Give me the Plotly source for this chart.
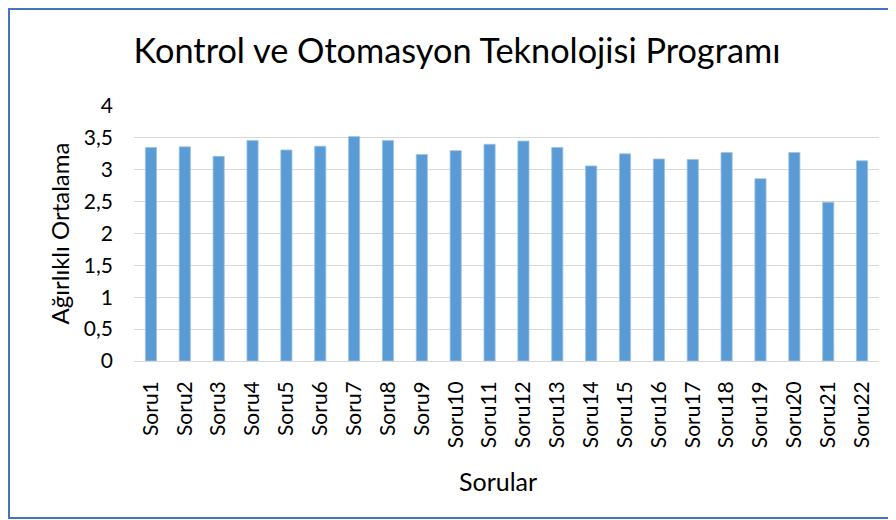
import plotly.graph_objects as go

categories = [f"Soru{i}" for i in range(1, 23)]
values = [3.35, 3.36, 3.21, 3.46, 3.31, 3.37, 3.52, 3.46, 3.24, 3.30, 3.40,
          3.45, 3.35, 3.06, 3.25, 3.17, 3.16, 3.27, 2.86, 3.27, 2.49, 3.14]
y_ticks = [0, 0.5, 1, 1.5, 2, 2.5, 3, 3.5, 4]
y_tick_labels = ["0", "0,5", "1", "1,5", "2", "2,5", "3", "3,5", "4"]

title_text = "Kontrol ve Otomasyon Teknolojisi Programı"
x_title = "Sorular"
y_title = "Ağırlıklı Ortalama"

# page body has an 8px margin; work in screen coordinates and subtract it
OFF = 8
W, H = 888, 512
L, R, T, B = 134 - OFF, 17, 106 - OFF, 512 - (361 - OFF)
pw, ph = W - L - R, H - T - B

def px_x(sx):
    return (sx - OFF - L) / pw

def px_y(sy):
    return (H - B - (sy - OFF)) / ph

FONT = "Lato"

fig = go.Figure(go.Bar(
    x=categories, y=values,
    marker=dict(color="#5B9BD5", line=dict(color="#9DC3E6", width=0.8)),
    width=0.33,
))

fig.update_layout(
    width=W, height=H,
    margin=dict(l=L, r=R, t=T, b=B),
    paper_bgcolor="white", plot_bgcolor="white",
    showlegend=False,
    font=dict(family=FONT, color="#000000"),
    title=dict(text=title_text, x=(457 - OFF) / W, xanchor="center", xref="container",
               y=1 - (51 - OFF) / H, yanchor="middle", yref="container",
               font=dict(size=34.3, family=FONT, color="#000000")),
    xaxis=dict(
        type="category", tickangle=-90, showgrid=False, showline=False,
        ticks="", tickfont=dict(size=21, family=FONT, color="#000000"),
        ticklabelstandoff=15,
    ),
    yaxis=dict(
        range=[0, 4], tickvals=y_ticks, ticktext=y_tick_labels,
        showgrid=True, gridcolor="#D9D9D9", gridwidth=1,
        zeroline=True, zerolinecolor="#D9D9D9", zerolinewidth=1,
        showline=False, ticks="",
        tickfont=dict(size=21, family=FONT, color="#000000"),
        ticklabelstandoff=20,
    ),
    bargap=0.67,
)

fig.add_annotation(text=x_title, xref="paper", yref="paper",
                   x=px_x(497.5), y=px_y(481), xanchor="center", yanchor="middle",
                   showarrow=False, font=dict(size=25, family=FONT, color="#000000"))
fig.add_annotation(text=y_title, xref="paper", yref="paper",
                   x=px_x(59), y=px_y(233.5), xanchor="center", yanchor="middle",
                   textangle=-90, showarrow=False,
                   font=dict(size=24, family=FONT, color="#000000"))

fig.add_shape(type="rect", xref="paper", yref="paper",
              x0=px_x(9), x1=px_x(910), y0=px_y(518), y1=px_y(9),
              line=dict(color="#4472C4", width=2), fillcolor="rgba(0,0,0,0)",
              layer="below")

fig.write_html("out.html")
